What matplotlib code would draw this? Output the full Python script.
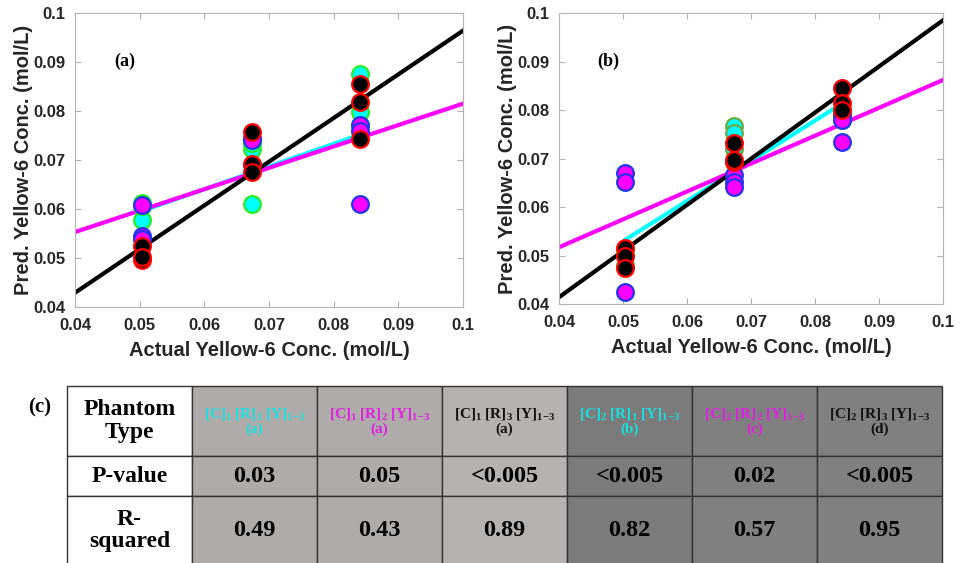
import matplotlib
matplotlib.use("Agg")
import matplotlib.pyplot as plt
from matplotlib.patches import Rectangle
import numpy as np

plt.rcParams["font.family"] = ["Liberation Sans", "DejaVu Sans"]
plt.rcParams["mathtext.fontset"] = "custom"
plt.rcParams["mathtext.rm"] = "Liberation Serif:bold"
plt.rcParams["mathtext.it"] = "Liberation Serif:bold"
plt.rcParams["mathtext.bf"] = "Liberation Serif:bold"

###############################
# DATA
###############################
conc_a = [0.0504] * 3 + [0.0673] * 3 + [0.0841] * 3
conc_b = [0.0503] * 3 + [0.0674] * 3 + [0.0842] * 3

cyan_a = [0.0613, 0.0578, 0.0606, 0.0722, 0.0735, 0.0611, 0.0876, 0.0798, 0.0772]
mag_a = [0.0609, 0.0544, 0.0538, 0.0745, 0.0740, 0.0690, 0.0771, 0.0611, 0.0760]
black_a = [0.0524, 0.0495, 0.0502, 0.0757, 0.0691, 0.0675, 0.0856, 0.0818, 0.0742]

cyan_b = [0.0512, 0.0500, 0.0480, 0.0767, 0.0753, 0.0720, 0.0780, 0.0790, 0.0800]
mag_b = [0.0671, 0.0651, 0.0425, 0.0666, 0.0652, 0.0641, 0.0790, 0.0734, 0.0780]
black_b = [0.0515, 0.0500, 0.0474, 0.0732, 0.0692, 0.0697, 0.0846, 0.0814, 0.0800]

# fitted lines: x ends, y ends
fit_x_full = [0.04, 0.1]
fit_cyan_a_x = [0.0504, 0.0841]
fit_cyan_a_y = [0.0596, 0.0752]
fit_mag_a_y = [0.0553, 0.0815]
fit_black_a_y = [0.0429, 0.0964]
fit_cyan_b_x = [0.0503, 0.0842]
fit_cyan_b_y = [0.0532, 0.0813]
fit_mag_b_y = [0.0517, 0.0862]
fit_black_b_y = [0.0414, 0.0985]

ticks = [0.04, 0.05, 0.06, 0.07, 0.08, 0.09, 0.1]
tick_labels = ["0.04", "0.05", "0.06", "0.07", "0.08", "0.09", "0.1"]

# table
row_heads = ["Phantom\nType", "P-value", "R-\nsquared"]
phantoms = [r"[C]$_1$ [R]$_1$ [Y]$_{1\mathrm{-}3}$" + "\n(a)",
            r"[C]$_1$ [R]$_2$ [Y]$_{1\mathrm{-}3}$" + "\n(a)",
            r"[C]$_1$ [R]$_3$ [Y]$_{1\mathrm{-}3}$" + "\n(a)",
            r"[C]$_2$ [R]$_1$ [Y]$_{1\mathrm{-}3}$" + "\n(b)",
            r"[C]$_2$ [R]$_2$ [Y]$_{1\mathrm{-}3}$" + "\n(c)",
            r"[C]$_2$ [R]$_3$ [Y]$_{1\mathrm{-}3}$" + "\n(d)"]
phantom_colors = ["#19e0e0", "#e01ee0", "#111111", "#19e0e0", "#e01ee0", "#111111"]
p_values = ["0.03", "0.05", "<0.005", "<0.005", "0.02", "<0.005"]
r_squared = ["0.49", "0.43", "0.89", "0.82", "0.57", "0.95"]
cell_colors = ["#afabaa", "#afabaa", "#b6b2b1", "#7b7b7b", "#808080", "#808080"]

###############################
# FIGURE
###############################
fig = plt.figure(figsize=(9.6, 5.63), dpi=100)


def panel(rect, ys, fits, label, edge_cyan):
    ax = fig.add_axes(rect)
    cy, mg, bk, xx = ys
    (cx, cyy), my, by = fits
    ax.plot(cx, cyy, color="#00ffff", lw=3, zorder=2)
    ax.plot(fit_x_full, my, color="#ff00ff", lw=3, zorder=2)
    ax.plot(fit_x_full, by, color="black", lw=3, zorder=2)
    ax.plot(xx, cy, "o", ms=12, mfc="#00ffff", mec=edge_cyan, mew=1.6, zorder=3)
    ax.plot(xx, mg, "o", ms=12, mfc="#ff00ff", mec="#2233ee", mew=1.6, zorder=4)
    ax.plot(xx, bk, "o", ms=12, mfc="black", mec="#ff0000", mew=1.6, zorder=5)
    ax.set_xlim(0.04, 0.1)
    ax.set_ylim(0.04, 0.1)
    ax.set_xticks(ticks)
    ax.set_xticklabels(tick_labels)
    ax.set_yticks(ticks)
    ax.set_yticklabels(tick_labels)
    ax.tick_params(direction="in", top=True, right=True, length=4,
                   color="#b0b0b0", labelsize=12, labelcolor="#262626")
    ax.tick_params(axis="x", pad=8)
    ax.tick_params(axis="y", pad=7)
    for lab in ax.get_xticklabels() + ax.get_yticklabels():
        lab.set_fontweight("bold")
    for s in ax.spines.values():
        s.set_color("#b5b5b5")
        s.set_linewidth(0.8)
    ax.set_xlabel("Actual Yellow-6 Conc. (mol/L)", fontsize=14.5,
                  fontweight="bold", color="#262626", labelpad=6)
    ax.set_ylabel("Pred. Yellow-6 Conc. (mol/L)", fontsize=14.5,
                  fontweight="bold", color="#262626", labelpad=0)
    ax.text(0.1, 0.835, label, transform=ax.transAxes, fontsize=13,
            fontweight="bold", family="Liberation Serif", va="center")
    return ax


panel([0.0781, 0.4547, 0.4042, 0.5222],
      (cyan_a, mag_a, black_a, conc_a),
      ((fit_cyan_a_x, fit_cyan_a_y), fit_mag_a_y, fit_black_a_y),
      "(a)", "#22ee22")
panel([0.5823, 0.4600, 0.4000, 0.5169],
      (cyan_b, mag_b, black_b, conc_b),
      ((fit_cyan_b_x, fit_cyan_b_y), fit_mag_b_y, fit_black_b_y),
      "(b)", "#6aaa44")

# table drawn in pixel coordinates
tax = fig.add_axes([0, 0, 1, 1])
tax.set_xlim(0, 960)
tax.set_ylim(563, 0)
tax.axis("off")

col_edges = [67, 192, 317, 442, 567, 692, 817, 942]
row_edges = [386, 456, 496, 575]

tax.text(40, 407, "(c)", fontsize=15, fontweight="bold",
         family="Liberation Serif", ha="center", va="center")

for j in range(7):
    x0, x1 = col_edges[j], col_edges[j + 1]
    fc = "white" if j == 0 else cell_colors[j - 1]
    for i in range(3):
        y0, y1 = row_edges[i], row_edges[i + 1]
        tax.add_patch(Rectangle((x0, y0), x1 - x0, y1 - y0, facecolor=fc,
                                edgecolor="#333333", lw=1.0))
        if i == 2:
            yc = (y0 + 565) / 2
        else:
            yc = (y0 + y1) / 2
        xc = (x0 + x1) / 2
        if j == 0:
            tax.text(xc, yc, row_heads[i], fontsize=17, fontweight="bold",
                     family="Liberation Serif", ha="center", va="center",
                     linespacing=1.1)
        elif i == 0:
            tax.text(xc, yc, phantoms[j - 1], fontsize=11, fontweight="bold",
                     family="Liberation Serif", ha="center", va="center",
                     color=phantom_colors[j - 1], linespacing=1.05)
        elif i == 1:
            tax.text(xc, yc, p_values[j - 1], fontsize=17.5, fontweight="bold",
                     family="Liberation Serif", ha="center", va="center")
        else:
            tax.text(xc, yc, r_squared[j - 1], fontsize=17.5, fontweight="bold",
                     family="Liberation Serif", ha="center", va="center")

fig.savefig("out.png", dpi=100)
